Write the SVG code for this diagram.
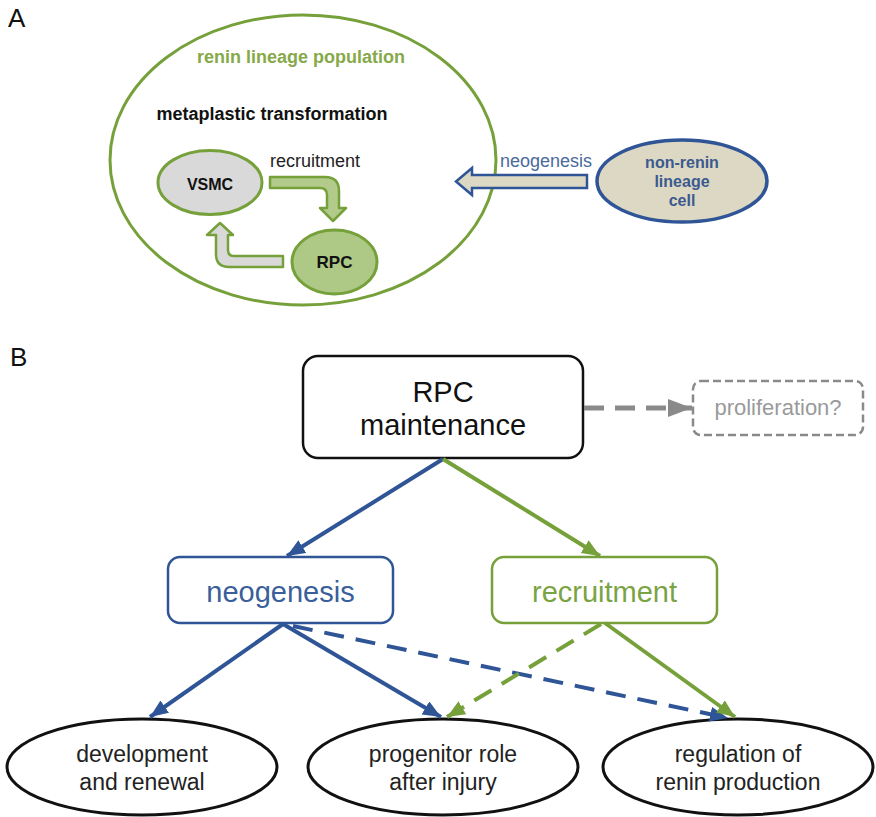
<svg xmlns="http://www.w3.org/2000/svg" width="876" height="817" viewBox="0 0 876 817">
<defs>
<style>
text{font-family:"Liberation Sans",Arial,sans-serif;}
.lbl{font-size:26px;fill:#111;}
.bA{font-weight:bold;text-anchor:middle;}
.tB{font-size:29px;text-anchor:middle;}
.tE{font-size:23px;text-anchor:middle;fill:#222;}
.blue{stroke:#2f5597;}
.green{stroke:#76a03a;}
.sol{fill:none;stroke-width:4;}
.dash{fill:none;stroke-width:4;stroke-dasharray:20 12;}
</style>
<marker id="ahB" markerUnits="userSpaceOnUse" markerWidth="19" markerHeight="16" refX="18" refY="7.5" orient="auto"><path d="M0,0 L18,7.5 L0,15 Z" fill="#2f5597"/></marker>
<marker id="ahG" markerUnits="userSpaceOnUse" markerWidth="19" markerHeight="16" refX="18" refY="7.5" orient="auto"><path d="M0,0 L18,7.5 L0,15 Z" fill="#76a03a"/></marker>
<marker id="ahK" markerUnits="userSpaceOnUse" markerWidth="25" markerHeight="19" refX="24" refY="9" orient="auto"><path d="M0,0 L24,9 L0,18 Z" fill="#8a8a8a"/></marker>
</defs>
<rect width="876" height="817" fill="#fff"/>

<text class="lbl" x="8" y="27">A</text>
<text class="lbl" x="10" y="366">B</text>

<!-- Panel A -->
<g id="renin-lineage-population">
<ellipse cx="303" cy="160" rx="193" ry="145" fill="none" stroke="#76a03a" stroke-width="3"/>
<text class="bA" x="301" y="63" font-size="18" fill="#86a94a">renin lineage population</text>
<text class="bA" x="272" y="120" font-size="18" fill="#111">metaplastic transformation</text>
</g>

<g id="vsmc">
<ellipse cx="210" cy="182.5" rx="52" ry="32" fill="#d9d9d9" stroke="#76a03a" stroke-width="3"/>
<text class="bA" x="210" y="190" font-size="16" fill="#111">VSMC</text>
</g>

<g id="rpc">
<ellipse cx="334.5" cy="262" rx="42.5" ry="32" fill="#adc985" stroke="#76a03a" stroke-width="3"/>
<text class="bA" x="334.5" y="268" font-size="17" fill="#111">RPC</text>
</g>

<g id="non-renin">
<ellipse cx="682" cy="181" rx="85" ry="41" fill="#ddd8c3" stroke="#2f5597" stroke-width="3.5"/>
<text class="bA" x="682" y="168" font-size="16" fill="#3b5a8f">non-renin</text>
<text class="bA" x="682" y="187" font-size="16" fill="#3b5a8f">lineage</text>
<text class="bA" x="682" y="206" font-size="16" fill="#3b5a8f">cell</text>
</g>

<g id="connectors-A">
<path d="M270,177 H325 Q339,177 339,191 V208 H346 L333,221 L320,208 H327 V195 Q327,188 320,188 H270 Z" fill="#b2cb8a" stroke="#76a03a" stroke-width="2.5" stroke-linejoin="round"/>
<text x="270" y="167" font-size="18" fill="#222">recruitment</text>
<path d="M283,256 H234 Q228,256 228,250 V235 H233 L220,223 L207,235 H216 V254 Q216,267 229,267 H283 Z" fill="#d9d9d9" stroke="#76a03a" stroke-width="2.5" stroke-linejoin="round"/>
<path d="M587,175 H472 V168 L456,181.5 L472,195 V188 H587 Z" fill="#ddd8c3" stroke="#2f5597" stroke-width="2.5" stroke-linejoin="miter"/>
<text x="546" y="167" font-size="18" text-anchor="middle" fill="#4a6a9a">neogenesis</text>
</g>

<!-- Panel B -->
<g id="rpc-maintenance">
<rect x="303" y="356" width="280" height="102" rx="15" fill="#fff" stroke="#111" stroke-width="2.5"/>
<text class="tB" x="443" y="402" fill="#111">RPC</text>
<text class="tB" x="443" y="435" fill="#111">maintenance</text>
</g>

<g id="proliferation">
<rect x="693" y="381" width="170" height="54" rx="8" fill="#fff" stroke="#8a8a8a" stroke-width="2.5" stroke-dasharray="8 4"/>
<text x="778" y="415" font-size="22" text-anchor="middle" fill="#9a9a9a">proliferation?</text>
</g>

<g id="neogenesis">
<rect x="168" y="557" width="225" height="66" rx="12" fill="#fff" stroke="#2f5597" stroke-width="2.5"/>
<text class="tB" x="280.5" y="602" fill="#3a5f9a">neogenesis</text>
</g>

<g id="recruitment">
<rect x="492" y="557" width="225" height="66" rx="12" fill="#fff" stroke="#76a03a" stroke-width="2.5"/>
<text class="tB" x="604.5" y="602" fill="#7aa443">recruitment</text>
</g>

<g id="development">
<ellipse cx="142" cy="767" rx="135" ry="48" fill="#fff" stroke="#111" stroke-width="3"/>
<text class="tE" x="142" y="762">development</text>
<text class="tE" x="142" y="790">and renewal</text>
</g>

<g id="progenitor">
<ellipse cx="443" cy="767" rx="135" ry="48" fill="#fff" stroke="#111" stroke-width="3"/>
<text class="tE" x="443" y="762">progenitor role</text>
<text class="tE" x="443" y="790">after injury</text>
</g>

<g id="regulation">
<ellipse cx="738" cy="767" rx="135" ry="48" fill="#fff" stroke="#111" stroke-width="3"/>
<text class="tE" x="738" y="762">regulation of</text>
<text class="tE" x="738" y="790">renin production</text>
</g>

<g id="connectors-B">
<line x1="584" y1="408" x2="692" y2="408" stroke="#8a8a8a" stroke-width="5" stroke-dasharray="20 11" marker-end="url(#ahK)"/>
<line class="sol blue" x1="443" y1="459" x2="287" y2="556" marker-end="url(#ahB)"/>
<line class="sol green" x1="443" y1="459" x2="600" y2="556" marker-end="url(#ahG)"/>
<line class="sol blue" x1="283" y1="624" x2="150" y2="717" marker-end="url(#ahB)"/>
<line class="sol blue" x1="283" y1="624" x2="441" y2="717" marker-end="url(#ahB)"/>
<line class="dash blue" x1="293" y1="626" x2="728" y2="718" marker-end="url(#ahB)"/>
<line class="dash green" x1="601" y1="624" x2="447" y2="717" marker-end="url(#ahG)"/>
<line class="sol green" x1="605" y1="623" x2="735" y2="717" marker-end="url(#ahG)"/>
</g>
</svg>
